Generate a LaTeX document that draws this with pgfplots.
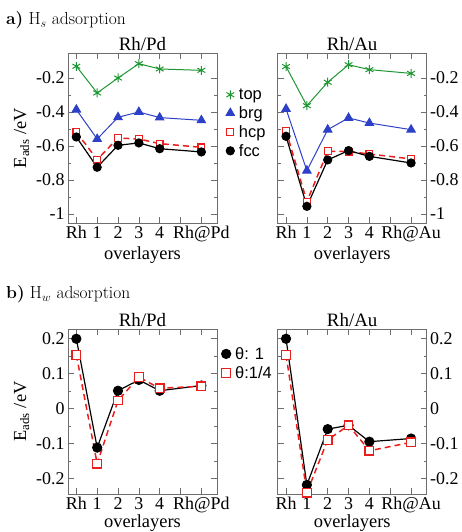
\documentclass[border=0pt]{standalone}
\usepackage{fontspec}
\usepackage{pgfplots}
\pgfplotsset{compat=1.18}
\newfontfamily\tnr{Liberation Serif}
\newfontfamily\arial{Liberation Sans}
\definecolor{cgreen}{RGB}{30,150,50}
\definecolor{cblue}{RGB}{45,65,200}
\definecolor{cred}{RGB}{235,30,30}
\definecolor{cframe}{RGB}{110,110,110}
\pgfplotsset{
  base/.style={
    scale only axis, width=149bp, anchor=south west,
    xmin=-0.4, xmax=6.75,
    xtick={0,1,2,3,4,5,6},
    tick align=inside,
    major tick length=6bp, minor tick length=3bp,
    axis line style={line width=0.8pt, cframe},
    every tick/.style={cframe, line width=0.6pt},
    tick label style={font=\tnr\fontsize{18}{18}\selectfont, text=black},
    /pgf/number format/assume math mode=true,
    label style={font=\tnr\fontsize{18.5}{18.5}\selectfont},
    title style={font=\tnr\fontsize{19}{19}\selectfont, yshift=-7bp},
    xlabel={overlayers},
    xlabel style={yshift=2bp},
    minor y tick num=1,
    clip=false,
  },
  topax/.style={base, height=170bp, ymin=-1.053, ymax=-0.053,
    ytick={-1,-0.8,-0.6,-0.4,-0.2}},
  botax/.style={base, height=165bp, ymin=-0.245, ymax=0.228,
    ytick={-0.2,-0.1,0,0.1,0.2}, xlabel style={yshift=3bp}},
  topS/.style={cgreen, line width=1pt, mark=asterisk, mark size=4.5bp, mark options={line width=1pt}},
  brgS/.style={cblue, line width=1pt, mark=triangle*, mark size=4.8bp},
  hcpS/.style={cred, line width=1.5pt, dash pattern=on 6bp off 4bp, mark=square*, mark size=3.4bp, mark options={solid, fill=white, line width=1.2pt}},
  fccS/.style={black, line width=1.2pt, mark=*, mark size=4bp},
  th1/.style={black, line width=1.2pt, mark=*, mark size=4.5bp},
  th4/.style={cred, line width=1.5pt, dash pattern=on 6bp off 4bp, mark=square*, mark size=4.3bp, mark options={solid, fill=white, line width=1.2pt}},
  mylegend/.style={legend style={draw=none, fill=none, font=\arial\fontsize{16.5}{16.5}\selectfont,
      row sep=2.5bp, column sep=3bp, inner sep=0pt, nodes={inner sep=1.5bp}, cells={anchor=west}},
    legend image code/.code={\draw[##1, only marks] plot coordinates {(0.05cm,0cm)};}},
}
\begin{document}
\begin{tikzpicture}
\useasboundingbox (0,0) rectangle (462bp,532bp);
\node[anchor=base west, inner sep=0pt] at (6bp,507bp) {\fontsize{17.5}{17.5}\selectfont\textbf{a)} H$_s$ adsorption};
\node[anchor=base west, inner sep=0pt] at (6bp,233bp) {\fontsize{17.5}{17.5}\selectfont\textbf{b)} H$_w$ adsorption};

% top left
\begin{axis}[topax, at={(68bp,309bp)}, title={Rh/Pd},
  xticklabels={Rh,1,2,3,4,,Rh@Pd},
  ylabel={E\textsubscript{ads} /eV},
  mylegend, legend style={at={(1.06,0.80)}, anchor=north west}]
\addplot[topS] coordinates {(0,-0.131) (1,-0.288) (2,-0.200) (3,-0.116) (4,-0.147) (6,-0.155)};
\addlegendentry{top}
\addplot[brgS] coordinates {(0,-0.386) (1,-0.559) (2,-0.431) (3,-0.400) (4,-0.433) (6,-0.449)};
\addlegendentry{brg}
\addplot[hcpS] coordinates {(0,-0.518) (1,-0.680) (2,-0.553) (3,-0.559) (4,-0.586) (6,-0.608)};
\addlegendentry{hcp}
\addplot[fccS] coordinates {(0,-0.547) (1,-0.725) (2,-0.596) (3,-0.582) (4,-0.616) (6,-0.635)};
\addlegendentry{fcc}
\end{axis}

% top right
\begin{axis}[topax, at={(277.7bp,309bp)}, title={Rh/Au},
  xticklabels={Rh,1,2,3,4,,Rh@Au}, yticklabel pos=right]
\addplot[topS] coordinates {(0,-0.133) (1,-0.363) (2,-0.225) (3,-0.122) (4,-0.151) (6,-0.173)};
\addplot[brgS] coordinates {(0,-0.382) (1,-0.745) (2,-0.504) (3,-0.435) (4,-0.465) (6,-0.504)};
\addplot[hcpS] coordinates {(0,-0.510) (1,-0.927) (2,-0.631) (3,-0.633) (4,-0.647) (6,-0.676)};
\addplot[fccS] coordinates {(0,-0.543) (1,-0.955) (2,-0.682) (3,-0.627) (4,-0.661) (6,-0.700)};
\end{axis}

% bottom left
\begin{axis}[botax, at={(68bp,38bp)}, title={Rh/Pd},
  xticklabels={Rh,1,2,3,4,,Rh@Pd},
  ylabel={E\textsubscript{ads} /eV},
  mylegend, legend style={at={(1.03,0.90)}, anchor=north west}]
\addplot[th1] coordinates {(0,0.200) (1,-0.112) (2,0.051) (3,0.082) (4,0.051) (6,0.066)};
\addlegendentry{θ: 1}
\addplot[th4] coordinates {(0,0.154) (1,-0.158) (2,0.023) (3,0.090) (4,0.058) (6,0.064)};
\addlegendentry{θ:1/4}
\end{axis}

% bottom right
\begin{axis}[botax, at={(277.7bp,38bp)}, title={Rh/Au},
  xticklabels={Rh,1,2,3,4,,Rh@Au}, yticklabel pos=right]
\addplot[th1] coordinates {(0,0.200) (1,-0.219) (2,-0.059) (3,-0.048) (4,-0.095) (6,-0.086)};
\addplot[th4] coordinates {(0,0.154) (1,-0.241) (2,-0.090) (3,-0.048) (4,-0.121) (6,-0.097)};
\end{axis}
\end{tikzpicture}
\end{document}
